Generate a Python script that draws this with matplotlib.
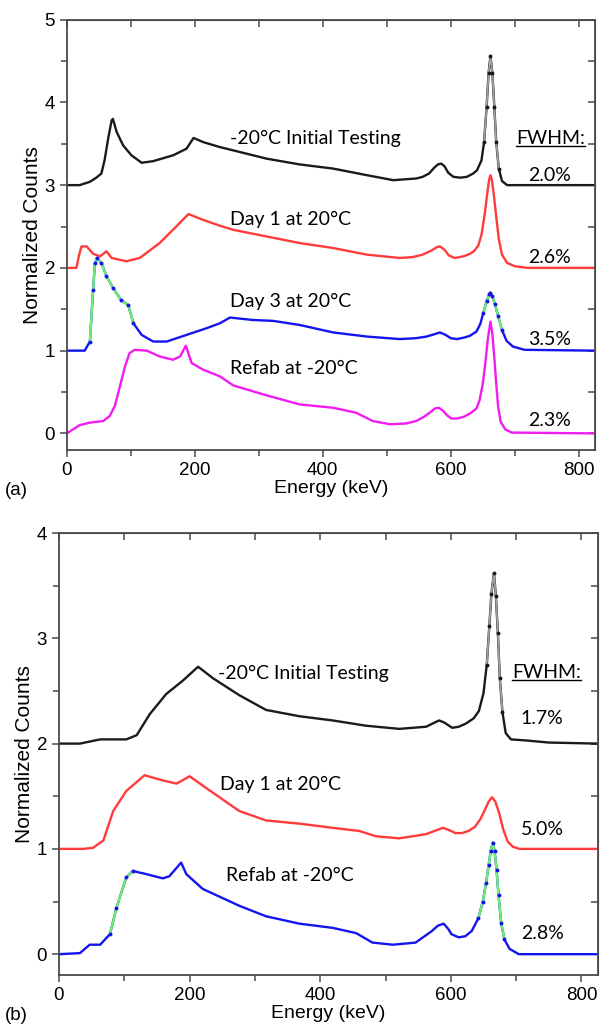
import matplotlib
matplotlib.use("Agg")
import matplotlib.pyplot as plt
from matplotlib.lines import Line2D
from matplotlib.ticker import MultipleLocator

# Panel (a) spectra, energy in keV, counts normalized and offset
a_black_e = [0, 20, 36, 46, 54, 59, 65, 70, 72, 78, 88, 101, 117, 135, 166, 187, 198, 213, 239, 260,
             312, 364, 416, 469, 510, 546, 556, 566, 574, 580, 585, 590, 596, 604, 615, 625, 635, 641,
             648, 652, 656, 659, 662, 665, 668, 671, 675, 680, 688, 825]
a_black_v = [3.0, 3.0, 3.04, 3.09, 3.14, 3.30, 3.58, 3.78, 3.80, 3.64, 3.48, 3.36, 3.27, 3.29, 3.36,
             3.44, 3.57, 3.52, 3.46, 3.42, 3.32, 3.25, 3.20, 3.12, 3.06, 3.08, 3.10, 3.14, 3.21, 3.25,
             3.26, 3.23, 3.15, 3.10, 3.09, 3.10, 3.14, 3.18, 3.30, 3.52, 3.95, 4.35, 4.56, 4.35, 3.95,
             3.52, 3.20, 3.05, 3.0, 3.0]

a_red_e = [0, 15, 19, 23, 31, 41, 52, 62, 70, 93, 114, 145, 171, 190, 213, 239, 260, 312, 364, 416,
           469, 520, 540, 556, 570, 578, 583, 590, 597, 606, 620, 630, 636, 643, 648, 653, 657, 660,
           662, 664, 667, 671, 675, 680, 688, 700, 720, 825]
a_red_v = [2.0, 2.0, 2.15, 2.26, 2.26, 2.17, 2.14, 2.20, 2.12, 2.08, 2.12, 2.30, 2.50, 2.65, 2.58,
           2.51, 2.46, 2.38, 2.30, 2.24, 2.16, 2.12, 2.13, 2.16, 2.21, 2.25, 2.26, 2.22, 2.15, 2.12,
           2.14, 2.17, 2.20, 2.27, 2.40, 2.65, 2.90, 3.07, 3.12, 3.07, 2.90, 2.62, 2.35, 2.16, 2.06,
           2.02, 2.0, 2.0]

a_blue_e = [0, 28, 36, 41, 44, 47, 54, 62, 72, 85, 96, 104, 117, 135, 156, 187, 218, 239, 255, 291,
            322, 364, 416, 469, 520, 545, 562, 575, 583, 592, 600, 610, 622, 630, 640, 646, 651, 656,
            660, 662, 665, 669, 674, 680, 687, 697, 715, 825]
a_blue_v = [1.0, 1.0, 1.11, 1.73, 2.06, 2.12, 2.06, 1.90, 1.76, 1.61, 1.55, 1.33, 1.19, 1.11, 1.11,
            1.19, 1.27, 1.33, 1.40, 1.37, 1.36, 1.31, 1.22, 1.17, 1.14, 1.15, 1.17, 1.20, 1.22, 1.19,
            1.15, 1.14, 1.16, 1.18, 1.23, 1.32, 1.46, 1.60, 1.68, 1.70, 1.66, 1.56, 1.42, 1.25, 1.12,
            1.05, 1.01, 1.0]

a_mag_e = [0, 10, 20, 36, 57, 67, 75, 83, 91, 98, 106, 125, 145, 166, 177, 186, 195, 213, 239, 260,
           312, 364, 416, 452, 478, 505, 530, 546, 558, 567, 575, 581, 587, 594, 601, 610, 620, 630,
           640, 645, 650, 654, 658, 662, 665, 668, 671, 674, 678, 685, 695, 825]
a_mag_v = [0.0, 0.05, 0.10, 0.13, 0.15, 0.21, 0.33, 0.57, 0.81, 0.97, 1.01, 1.0, 0.93, 0.89, 0.93,
           1.06, 0.85, 0.77, 0.69, 0.58, 0.46, 0.35, 0.31, 0.25, 0.15, 0.11, 0.12, 0.15, 0.20, 0.25,
           0.30, 0.31, 0.28, 0.22, 0.18, 0.18, 0.20, 0.24, 0.30, 0.40, 0.60, 0.85, 1.15, 1.35, 1.20,
           0.92, 0.60, 0.32, 0.14, 0.05, 0.01, 0.0]

a_labels = ["-20°C Initial Testing", "Day 1 at 20°C", "Day 3 at 20°C", "Refab at -20°C"]
a_fwhm = ["2.0%", "2.6%", "3.5%", "2.3%"]

# Panel (b)
b_black_e = [0, 32, 63, 103, 119, 139, 164, 190, 213, 236, 276, 317, 368, 419, 470, 521, 562, 572,
             582, 590, 602, 612, 623, 635, 643, 650, 655, 659, 662, 666, 669, 672, 675, 679, 684, 692,
             715, 750, 825]
b_black_v = [2.0, 2.0, 2.04, 2.04, 2.08, 2.28, 2.47, 2.60, 2.73, 2.62, 2.46, 2.32, 2.26, 2.22, 2.17,
             2.14, 2.16, 2.19, 2.22, 2.20, 2.15, 2.16, 2.19, 2.24, 2.31, 2.48, 2.75, 3.12, 3.42, 3.62,
             3.40, 3.05, 2.62, 2.30, 2.10, 2.04, 2.03, 2.01, 2.0]

b_red_e = [0, 37, 52, 68, 83, 103, 131, 159, 180, 200, 225, 276, 317, 368, 419, 460, 485, 521, 562,
           575, 588, 597, 607, 617, 627, 637, 645, 652, 658, 663, 668, 674, 680, 687, 695, 705, 825]
b_red_v = [1.0, 1.0, 1.01, 1.08, 1.36, 1.55, 1.70, 1.65, 1.62, 1.69, 1.58, 1.36, 1.27, 1.24, 1.20,
           1.17, 1.12, 1.10, 1.14, 1.17, 1.20, 1.18, 1.15, 1.15, 1.17, 1.21, 1.28, 1.37, 1.45, 1.49,
           1.45, 1.34, 1.19, 1.07, 1.02, 1.0, 1.0]

b_blue_e = [0, 32, 47, 63, 78, 88, 103, 113, 134, 159, 169, 187, 195, 220, 276, 317, 368, 419, 455,
            480, 511, 546, 571, 580, 589, 596, 601, 612, 622, 632, 642, 649, 654, 658, 661, 664, 667,
            670, 673, 677, 682, 690, 704, 825]
b_blue_v = [0.0, 0.01, 0.09, 0.09, 0.19, 0.44, 0.73, 0.79, 0.76, 0.72, 0.74, 0.87, 0.76, 0.62, 0.46,
            0.36, 0.29, 0.25, 0.20, 0.11, 0.09, 0.11, 0.22, 0.27, 0.29, 0.24, 0.19, 0.16, 0.17, 0.22,
            0.34, 0.50, 0.68, 0.85, 0.98, 1.06, 0.98, 0.80, 0.56, 0.30, 0.14, 0.05, 0.0, 0.0]

b_labels = ["-20°C Initial Testing", "Day 1 at 20°C", "Refab at -20°C"]
b_fwhm = ["1.7%", "5.0%", "2.8%"]

BLACK = "#1a1a1a"
GRAY = "#a0a0a0"
RED = "#ff3b3b"
BLUE = "#1414ee"
MAGENTA = "#f01cf0"
GREEN = "#6cf06c"
SPINE = "#4a4a4a"
NOTE_FONT = "Lato"
TICK_FONT = "Liberation Sans"


def style_axes(ax, ymax):
    """Cadre, graduations et étiquettes communes aux deux panneaux."""
    ax.set_xlim(0, 825)
    ax.set_ylim(-0.2, ymax)
    for s in ax.spines.values():
        s.set_color(SPINE)
        s.set_linewidth(1.3)
    ax.xaxis.set_major_locator(MultipleLocator(200))
    ax.xaxis.set_minor_locator(MultipleLocator(100))
    ax.yaxis.set_major_locator(MultipleLocator(1))
    ax.yaxis.set_minor_locator(MultipleLocator(0.5))
    ax.tick_params(which="both", direction="out", color=SPINE, width=1.1, labelsize=13.5,
                   top=False, right=False)
    ax.tick_params(which="major", length=5)
    ax.tick_params(which="minor", length=4)
    for lab in ax.get_xticklabels() + ax.get_yticklabels():
        lab.set_fontfamily(TICK_FONT)
    # graduations intérieures en haut et à droite
    top = ax.secondary_xaxis("top")
    top.xaxis.set_major_locator(MultipleLocator(100))
    top.tick_params(direction="in", length=5, width=1.1, color=SPINE, labeltop=False)
    top.spines["top"].set_color(SPINE)
    right = ax.secondary_yaxis("right")
    right.yaxis.set_major_locator(MultipleLocator(0.5))
    right.tick_params(direction="in", length=5, width=1.1, color=SPINE, labelright=False)
    right.spines["right"].set_color(SPINE)
    ax.set_xlabel("Energy (keV)", fontsize=14, family=TICK_FONT, labelpad=1)
    ax.set_ylabel("Normalized Counts", fontsize=15, family=TICK_FONT, labelpad=2)


def plot_spectrum(ax, e, v, color, steep=(), under=GREEN):
    """Trace un spectre; les parties raides en points sur une ligne claire."""
    if under == GRAY:
        main_lw = 1.7
    else:
        main_lw = 1.7
    ax.plot(e, v, color=color, lw=main_lw, solid_capstyle="round", solid_joinstyle="round")
    for i0, i1 in steep:
        ax.plot(e[i0:i1], v[i0:i1], color=under, lw=1.3 if under == GRAY else 1.7)
        ax.plot(e[i0:i1], v[i0:i1], ls="none", marker="o", ms=1.8, color=color)


def add_notes(ax, labels, label_pos, fwhm, fwhm_pos, head_pos):
    for text, (x, y) in zip(labels, label_pos):
        ax.text(x, y, text, fontsize=14, family=NOTE_FONT, va="center", ha="left")
    for text, (x, y) in zip(fwhm, fwhm_pos):
        ax.text(x, y, text, fontsize=14, family=NOTE_FONT, va="center", ha="center")
    head = ax.text(head_pos[0], head_pos[1], "FWHM:", fontsize=14, family=NOTE_FONT,
                   va="center", ha="center")
    return head


def underline(fig, txt):
    fig.canvas.draw()
    bb = txt.get_window_extent()
    y = bb.y0 + 1
    fig.add_artist(Line2D([bb.x0, bb.x1], [y, y], transform=None, color="black", lw=1.0))


fig = plt.figure(figsize=(6.02, 10.32), dpi=100)
ax_a = fig.add_axes([0.111, 0.564, 0.877, 0.417])
ax_b = fig.add_axes([0.098, 0.055, 0.895, 0.4285])

# le trait gris n'est posé que sur le pic, le reste reste noir
plot_spectrum(ax_a, a_black_e, a_black_v, BLACK)
ax_a.plot(a_black_e[39:47], a_black_v[39:47], color=GRAY, lw=1.3)
ax_a.plot(a_black_e[39:47], a_black_v[39:47], ls="none", marker="o", ms=1.8, color=BLACK)
plot_spectrum(ax_a, a_red_e, a_red_v, RED)
plot_spectrum(ax_a, a_blue_e, a_blue_v, BLUE, steep=[(2, 12), (36, 44)])
plot_spectrum(ax_a, a_mag_e, a_mag_v, MAGENTA)
style_axes(ax_a, 5)
head_a = add_notes(ax_a, a_labels, [(255, 3.56), (255, 2.59), (255, 1.59), (255, 0.79)],
                   a_fwhm, [(754, 3.12), (754, 2.12), (754, 1.14), (754, 0.15)], (756, 3.56))

plot_spectrum(ax_b, b_black_e, b_black_v, BLACK)
ax_b.plot(b_black_e[26:34], b_black_v[26:34], color=GRAY, lw=1.3)
ax_b.plot(b_black_e[26:34], b_black_v[26:34], ls="none", marker="o", ms=1.8, color=BLACK)
plot_spectrum(ax_b, b_red_e, b_red_v, RED)
plot_spectrum(ax_b, b_blue_e, b_blue_v, BLUE, steep=[(4, 8), (30, 41)])
style_axes(ax_b, 4)
head_b = add_notes(ax_b, b_labels, [(243, 2.67), (246, 1.61), (256, 0.75)],
                   b_fwhm, [(740, 2.24), (740, 1.18), (740, 0.20)], (746, 2.68))

fig.text(0.008, 0.525, "(a)", fontsize=13.5, family=TICK_FONT, va="center")
fig.text(0.008, 0.016, "(b)", fontsize=13.5, family=TICK_FONT, va="center")

underline(fig, head_a)
underline(fig, head_b)

fig.savefig("out.png", dpi=100)
